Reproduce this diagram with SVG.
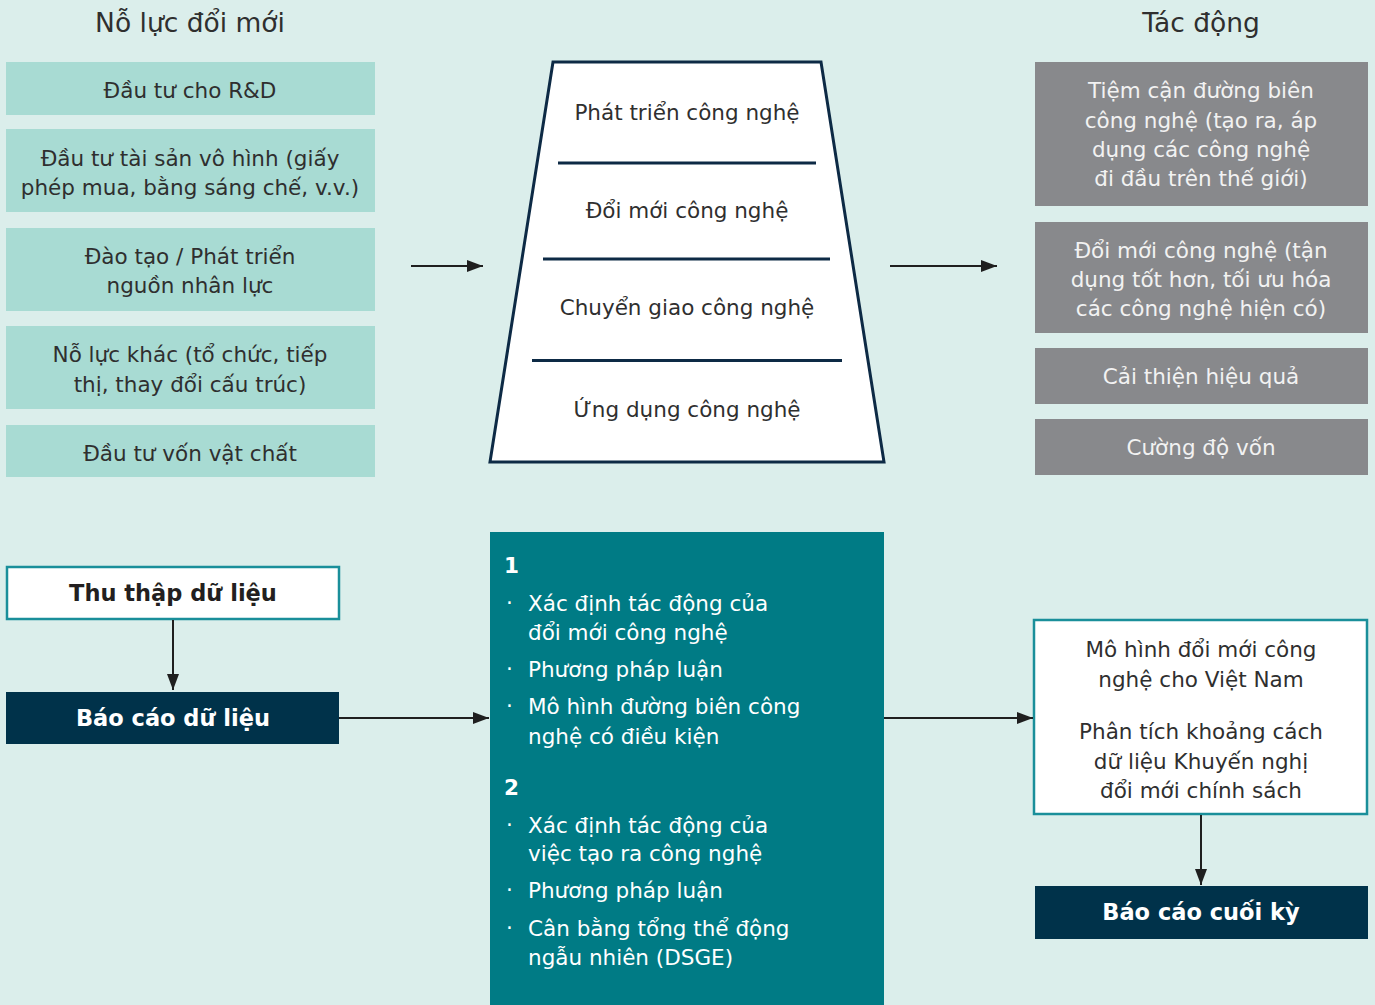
<svg xmlns="http://www.w3.org/2000/svg" width="1375" height="1005" viewBox="0 0 1375 1005">
<defs>
<marker id="ah" markerWidth="16" markerHeight="12" refX="16" refY="6" orient="auto" markerUnits="userSpaceOnUse">
<path d="M0,0 L16,6 L0,12 Z" fill="#1f1f1f"/>
</marker>
<style>
text{font-family:"DejaVu Sans","Open Sans",sans-serif;}
.t{font-size:21.5px;fill:#2f2f2f;text-anchor:middle;}
.h{font-size:26.5px;fill:#2f2f2f;text-anchor:middle;}
.g{font-size:21.5px;fill:#f2f2f2;text-anchor:middle;}
.w{font-size:21.5px;fill:#ffffff;}
.b{font-size:22.5px;font-weight:bold;text-anchor:middle;}
.mint{fill:#a8dbd3;}
.grey{fill:#88898c;}
.navy{fill:#00324a;}
.conn{stroke:#1f1f1f;stroke-width:2;fill:none;marker-end:url(#ah);}
</style>
</defs>
<rect width="1375" height="1005" fill="#dbeeeb"/>
<text class="h" x="190" y="32">Nỗ lực đổi mới</text>
<text class="h" x="1201" y="32">Tác động</text>

<g id="e1"><rect class="mint" x="6" y="62" width="369" height="53"/><text class="t" x="190" y="98">Đầu tư cho R&amp;D</text></g>
<g id="e2"><rect class="mint" x="6" y="129" width="369" height="83"/><text class="t" x="190" y="166">Đầu tư tài sản vô hình (giấy</text><text class="t" x="190" y="195">phép mua, bằng sáng chế, v.v.)</text></g>
<g id="e3"><rect class="mint" x="6" y="228" width="369" height="83"/><text class="t" x="190" y="264">Đào tạo / Phát triển</text><text class="t" x="190" y="293">nguồn nhân lực</text></g>
<g id="e4"><rect class="mint" x="6" y="326" width="369" height="83"/><text class="t" x="190" y="362">Nỗ lực khác (tổ chức, tiếp</text><text class="t" x="190" y="392">thị, thay đổi cấu trúc)</text></g>
<g id="e5"><rect class="mint" x="6" y="425" width="369" height="52"/><text class="t" x="190" y="461">Đầu tư vốn vật chất</text></g>

<g id="funnel">
<path d="M553,62 L821,62 L884,462 L490,462 Z" fill="#ffffff" stroke="#0d2a45" stroke-width="3"/>
<line x1="558" y1="163" x2="816" y2="163" stroke="#0d2a45" stroke-width="3"/>
<line x1="543" y1="259" x2="830" y2="259" stroke="#0d2a45" stroke-width="3"/>
<line x1="532" y1="360.5" x2="842" y2="360.5" stroke="#0d2a45" stroke-width="3"/>
<text class="t" x="687" y="120">Phát triển công nghệ</text>
<text class="t" x="687" y="218">Đổi mới công nghệ</text>
<text class="t" x="687" y="315">Chuyển giao công nghệ</text>
<text class="t" x="687" y="417">Ứng dụng công nghệ</text>
</g>

<g id="i1"><rect class="grey" x="1035" y="62" width="333" height="144"/><text class="g" x="1201" y="98">Tiệm cận đường biên</text><text class="g" x="1201" y="128">công nghệ (tạo ra, áp</text><text class="g" x="1201" y="157">dụng các công nghệ</text><text class="g" x="1201" y="186">đi đầu trên thế giới)</text></g>
<g id="i2"><rect class="grey" x="1035" y="222" width="333" height="111"/><text class="g" x="1201" y="258">Đổi mới công nghệ (tận</text><text class="g" x="1201" y="287">dụng tốt hơn, tối ưu hóa</text><text class="g" x="1201" y="316">các công nghệ hiện có)</text></g>
<g id="i3"><rect class="grey" x="1035" y="348" width="333" height="56"/><text class="g" x="1201" y="384">Cải thiện hiệu quả</text></g>
<g id="i4"><rect class="grey" x="1035" y="419" width="333" height="56"/><text class="g" x="1201" y="455">Cường độ vốn</text></g>

<g id="collect"><rect x="7" y="567" width="332" height="52" fill="#ffffff" stroke="#1a8f9a" stroke-width="2.5"/><text class="b" x="173" y="601" fill="#231f20">Thu thập dữ liệu</text></g>
<g id="datareport"><rect class="navy" x="6" y="692" width="333" height="52"/><text class="b" x="173" y="726" fill="#ffffff">Báo cáo dữ liệu</text></g>

<g id="method">
<rect x="490" y="532" width="394" height="480" fill="#007b85"/>
<text class="w" x="504" y="573" font-weight="bold" font-size="23">1</text>
<text class="w" x="506" y="610">·</text><text class="w" x="528" y="611">Xác định tác động của</text>
<text class="w" x="528" y="640">đổi mới công nghệ</text>
<text class="w" x="506" y="676">·</text><text class="w" x="528" y="677">Phương pháp luận</text>
<text class="w" x="506" y="713">·</text><text class="w" x="528" y="714">Mô hình đường biên công</text>
<text class="w" x="528" y="744">nghệ có điều kiện</text>
<text class="w" x="504" y="795" font-weight="bold" font-size="23">2</text>
<text class="w" x="506" y="832">·</text><text class="w" x="528" y="833">Xác định tác động của</text>
<text class="w" x="528" y="861">việc tạo ra công nghệ</text>
<text class="w" x="506" y="897">·</text><text class="w" x="528" y="898">Phương pháp luận</text>
<text class="w" x="506" y="935">·</text><text class="w" x="528" y="936">Cân bằng tổng thể động</text>
<text class="w" x="528" y="965">ngẫu nhiên (DSGE)</text>
</g>

<g id="model"><rect x="1034" y="620" width="333" height="194" fill="#ffffff" stroke="#1a8f9a" stroke-width="2.5"/>
<text class="t" x="1201" y="657">Mô hình đổi mới công</text>
<text class="t" x="1201" y="687">nghệ cho Việt Nam</text>
<text class="t" x="1201" y="739">Phân tích khoảng cách</text>
<text class="t" x="1201" y="769">dữ liệu Khuyến nghị</text>
<text class="t" x="1201" y="798">đổi mới chính sách</text>
</g>
<g id="final"><rect class="navy" x="1035" y="886" width="333" height="53"/><text class="b" x="1201" y="920" fill="#ffffff">Báo cáo cuối kỳ</text></g>

<g id="connectors">
<line class="conn" x1="411" y1="266" x2="483" y2="266"/>
<line class="conn" x1="890" y1="266" x2="997" y2="266"/>
<line class="conn" x1="173" y1="620" x2="173" y2="690"/>
<line class="conn" x1="339" y1="718" x2="489" y2="718"/>
<line class="conn" x1="884" y1="718" x2="1033" y2="718"/>
<line class="conn" x1="1201" y1="815" x2="1201" y2="885"/>
</g>
</svg>
